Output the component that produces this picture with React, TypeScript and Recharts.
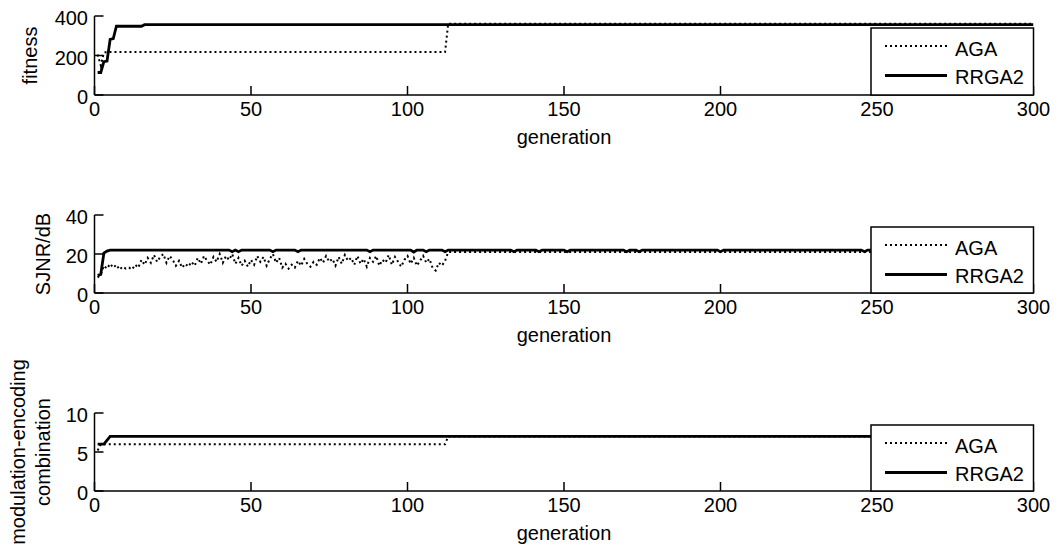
import React from 'react';
import { LineChart, Line, XAxis, YAxis, Legend } from 'recharts';

const FONT = '"Liberation Sans", Arial, sans-serif';

const GEN_TICKS = [0, 50, 100, 150, 200, 250, 300];
const FITNESS_TICKS = [0, 200, 400];
const SJNR_TICKS = [0, 20, 40];
const COMBO_TICKS = [0, 5, 10];

// curve vertices as [generation, value]
const FITNESS_AGA = [[1, 205], [2, 150], [3, 214], [4, 218], [112, 218], [113, 361], [300, 361]];
const FITNESS_RRGA2 = [[1, 114], [2, 114], [3, 169], [4, 172], [5, 282], [6, 286], [7, 348], [15, 348], [16, 356], [300, 356]];

// AGA SJNR, one value per generation 1..112
const SJNR_AGA_EARLY = [
  8, 9.5, 14, 12.5, 15, 13, 14.5, 12, 13.5, 12.5,
  13, 12, 14.5, 13, 17, 14.5, 18, 15.5, 19.5, 16,
  18.5, 20, 15.5, 19, 17, 14, 16.5, 13, 15, 13.5,
  16, 14, 18, 15, 19, 16.5, 14.5, 18.5, 16, 20,
  15.5, 19, 17, 20, 15, 18, 14, 16.5, 13.5, 17,
  14.5, 19, 16, 18.5, 14, 17.5, 20, 15.5, 18, 13,
  15, 12.5, 14.5, 13, 16.5, 14, 17.5, 15, 13.5, 16,
  14.5, 18, 15.5, 19, 16, 17.5, 14, 18.5, 15, 19.5,
  16.5, 18, 14.5, 19, 15, 17.5, 13.5, 18, 16, 19,
  14, 17, 15.5, 19.5, 14.5, 18.5, 16, 13.5, 17, 19,
  15, 18, 14, 16.5, 19, 15.5, 17.5, 13, 11.5, 15.5,
  14, 16.5,
];
const SJNR_AGA_LATE = [[113, 21], [300, 21]];
const SJNR_RRGA2 = [
  [1, 9], [2, 9.5], [3, 20.5], [4, 21.5], [5, 22],
  [43, 22], [44, 21.2], [45, 22], [46, 21.2], [47, 22],
  [56, 22], [57, 21.2], [58, 22], [64, 22], [65, 21.2], [66, 22],
  [87, 22], [88, 21.2], [89, 22], [101, 22], [102, 21], [103, 22],
  [105, 22], [106, 21.2], [107, 22], [111, 22], [112, 21.2], [113, 22],
  [133, 22], [134, 21.2], [135, 22], [141, 22], [142, 21.2], [143, 22],
  [150, 22], [151, 21.2], [152, 22], [169, 22], [170, 21.2], [171, 22],
  [173, 22], [174, 21.2], [175, 22], [199, 22], [200, 21.2], [201, 22],
  [245, 22], [246, 21.2], [247, 22], [300, 22],
];

const COMBO_AGA = [[1, 5.2], [2, 6], [112, 6], [113, 7], [300, 7]];
const COMBO_RRGA2 = [[1, 6], [3, 6], [5, 7], [300, 7]];

const toRows = (pts: number[][]) => pts.map(([g, v]) => ({ g, v }));
const sjnrAga = [...SJNR_AGA_EARLY.map((v, i) => ({ g: i + 1, v })), ...toRows(SJNR_AGA_LATE)];

const SERIES_STYLE: Record<string, { width: number; dash?: string }> = {
  AGA: { width: 2, dash: '2 3' },
  RRGA2: { width: 2.8 },
};

const AXIS = { stroke: '#000', strokeWidth: 1.5 };
const TICK = { fill: '#000', fontSize: 20, fontFamily: FONT, dy: 2 };
const Blank = () => <g />;

const PLOT_LEFT = 94.5;
const PLOT_RIGHT = 1033.5;
const W = 1058;
const LEG_LEFT = 871;
const LEG_TOP = 12;

function LegendBox({ payload, height }: any) {
  const w = PLOT_RIGHT - LEG_LEFT;
  const lineY = [18, 47.5];
  const textY = [28, 56];
  return (
    <svg width={w} height={height} style={{ display: 'block', overflow: 'visible' }}>
      <rect x={0} y={0} width={w} height={height} fill="#fff" stroke="#000" strokeWidth={1.5} />
      {(payload || []).map((e: any, i: number) => {
        const s = SERIES_STYLE[e.value] || { width: 2 };
        return (
          <g key={e.value}>
            <line x1={14} x2={76} y1={lineY[i]} y2={lineY[i]} stroke="#000" strokeWidth={s.width} strokeDasharray={s.dash} />
            <text x={84} y={textY[i]} fontSize={20} fontFamily={FONT} fill="#000">{e.value}</text>
          </g>
        );
      })}
    </svg>
  );
}

const yLabel = (lines: string[], xs: number[]) => (props: any) => {
  const vb = props.viewBox || {};
  const cy = vb.y + vb.height / 2;
  return (
    <g>
      {lines.map((t, i) => (
        <text key={t} x={xs[i]} y={cy} transform={`rotate(-90 ${xs[i]} ${cy})`} textAnchor="middle" fontSize={20} fontFamily={FONT} fill="#000">
          {t}
        </text>
      ))}
    </g>
  );
};

const xLabel = (props: any) => {
  const vb = props.viewBox || {};
  return (
    <text x={vb.x + vb.width / 2} y={vb.y + 49} textAnchor="middle" fontSize={20} fontFamily={FONT} fill="#000">
      generation
    </text>
  );
};

function Panel({ top, plotTop, plotH, yMax, yTicks, aga, rrga, label, labelX }: any) {
  return (
    <div style={{ position: 'absolute', left: 0, top, width: W }}>
      <LineChart width={W} height={plotTop + plotH + 58} margin={{ top: plotTop, right: W - PLOT_RIGHT, bottom: 0, left: 0 }}>
        <XAxis xAxisId="b" dataKey="g" type="number" domain={[0, 300]} ticks={GEN_TICKS} allowDataOverflow interval={0}
          height={58} tickSize={-9} tickMargin={14} axisLine={AXIS} tickLine={AXIS} tick={TICK} label={{ content: xLabel }} />
        <XAxis xAxisId="t" orientation="top" dataKey="g" type="number" domain={[0, 300]} ticks={GEN_TICKS} allowDataOverflow interval={0}
          height={0} tickSize={-9} axisLine={AXIS} tickLine={AXIS} tick={Blank} />
        <YAxis yAxisId="l" type="number" domain={[0, yMax]} ticks={yTicks} allowDataOverflow interval={0}
          width={PLOT_LEFT} tickSize={-9} tickMargin={15.5} axisLine={AXIS} tickLine={AXIS} tick={TICK}
          label={{ content: yLabel(label, labelX) }} />
        <YAxis yAxisId="r" orientation="right" type="number" domain={[0, yMax]} ticks={yTicks} allowDataOverflow interval={0}
          width={0} tickSize={-9} axisLine={AXIS} tickLine={AXIS} tick={Blank} />
        <Line xAxisId="b" yAxisId="l" data={aga} dataKey="v" name="AGA" stroke="#000" strokeWidth={2}
          strokeDasharray="2 3" dot={false} activeDot={false} isAnimationActive={false} />
        <Line xAxisId="b" yAxisId="l" data={rrga} dataKey="v" name="RRGA2" stroke="#000" strokeWidth={2.8}
          dot={false} activeDot={false} isAnimationActive={false} />
        <Legend layout="vertical" align="center" verticalAlign="middle"
          wrapperStyle={{ left: LEG_LEFT, top: plotTop + LEG_TOP, width: PLOT_RIGHT - LEG_LEFT, height: plotH - LEG_TOP }}
          content={(p: any) => <LegendBox payload={p.payload} height={plotH - LEG_TOP} />} />
      </LineChart>
    </div>
  );
}

export default function App() {
  return (
    <div style={{ position: 'absolute', left: 0, top: 0, width: W, height: 549, overflow: 'hidden', background: '#fff', fontFamily: FONT }}>
      <Panel top={0} plotTop={16} plotH={79} yMax={400} yTicks={FITNESS_TICKS} aga={toRows(FITNESS_AGA)} rrga={toRows(FITNESS_RRGA2)}
        label={['fitness']} labelX={[37]} />
      <Panel top={199} plotTop={16} plotH={78} yMax={40} yTicks={SJNR_TICKS} aga={sjnrAga} rrga={toRows(SJNR_RRGA2)}
        label={['SJNR/dB']} labelX={[50]} />
      <Panel top={355} plotTop={58} plotH={78} yMax={10} yTicks={COMBO_TICKS} aga={toRows(COMBO_AGA)} rrga={toRows(COMBO_RRGA2)}
        label={['modulation-encoding', 'combination']} labelX={[25, 50]} />
    </div>
  );
}
